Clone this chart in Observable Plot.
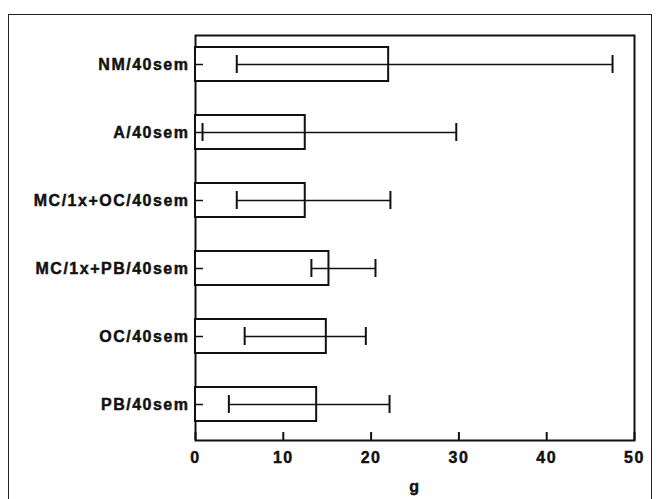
<!DOCTYPE html>
<html><head><meta charset="utf-8">
<script src="https://cdn.jsdelivr.net/npm/d3@7"></script>
<script src="https://cdn.jsdelivr.net/npm/@observablehq/plot@0.6"></script>
<style>
body{margin:0;background:#fff;}
#wrap{position:relative;width:662px;height:499px;overflow:hidden;background:#fff;}
#border{position:absolute;left:8px;top:14px;width:644px;height:600px;border:1.5px solid #222;box-sizing:border-box;}
#chart{position:absolute;left:0;top:0;}
#chart svg text{letter-spacing:1.5px;stroke:#111;stroke-width:0.45px;}
</style></head><body>
<div id="wrap"><div id="border"></div><div id="chart"></div></div>
<script>
const groups = ["NM/40sem","A/40sem","MC/1x+OC/40sem","MC/1x+PB/40sem","OC/40sem","PB/40sem"];
const means = [22.0, 12.5, 12.5, 15.2, 14.9, 13.8];
const lows  = [4.7, 0.8, 4.7, 13.2, 5.6, 3.8];
const highs = [47.5, 29.7, 22.2, 20.5, 19.4, 22.1];
const xTicks = [0, 10, 20, 30, 40, 50];
const data = groups.map((g, i) => ({g, m: means[i], lo: lows[i], hi: highs[i]}));

const chart = Plot.plot({
  width: 662, height: 499,
  marginLeft: 195, marginRight: 28, marginTop: 35, marginBottom: 59,
  style: {fontFamily: "'Liberation Sans', Arial, sans-serif", fontSize: "16px", fontWeight: "bold", background: "transparent", color: "#111"},
  x: {domain: [0, 50]},
  y: {domain: groups, paddingInner: 0.5, paddingOuter: 0, insetTop: 9, insetBottom: 17},
  marks: [
    Plot.frame({stroke: "#111", strokeWidth: 2}),
    Plot.barX(data, {x: "m", y: "g", fill: "white", stroke: "#111", strokeWidth: 2}),
    Plot.ruleY(data, {y: "g", x1: "lo", x2: "hi", stroke: "#111", strokeWidth: 1.6}),
    Plot.tickX(data, {x: "lo", y: "g", insetTop: 8, insetBottom: 8, stroke: "#111", strokeWidth: 2}),
    Plot.tickX(data, {x: "hi", y: "g", insetTop: 8, insetBottom: 8, stroke: "#111", strokeWidth: 2}),
    Plot.axisX({ticks: xTicks, tickSize: -8, tickPadding: 19, strokeWidth: 2, label: "g", labelAnchor: "center", labelArrow: "none", labelOffset: 51}),
    Plot.axisY({tickSize: -8, tickPadding: 14, strokeWidth: 1.5, label: null})
  ]
});
document.getElementById("chart").appendChild(chart);
</script>
</body></html>
